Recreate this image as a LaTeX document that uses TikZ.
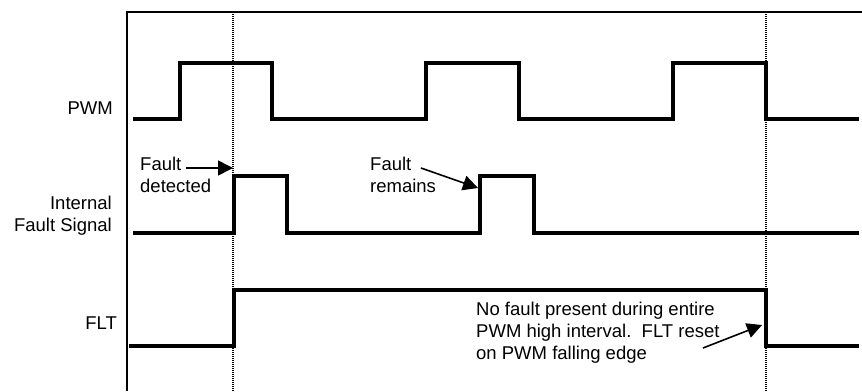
\documentclass[tikz,border=0pt]{standalone}
\usepackage{fontspec}
\setmainfont{Liberation Sans}
\usetikzlibrary{arrows.meta}

\begin{document}
\begin{tikzpicture}[x=1pt,y=-1pt,
  sig/.style={line width=3.2pt},
  frame/.style={line width=2pt},
  marker/.style={line width=1.3pt,dash pattern=on 1.2pt off 0.8pt},
  lbl/.style={inner sep=0pt,font=\fontsize{18.5}{22}\selectfont},
  note/.style={-{Triangle[length=15pt,width=15pt]},line width=1.6pt}]
\useasboundingbox (0,0) rectangle (862,391);
% frame and time markers
\draw [frame] (862,12) -- (127,12) -- (127,391);
\draw [marker] (233,12) -- (233,391);
\draw [marker] (766,12) -- (766,391);
% signal names
\node (PWM) [lbl,anchor=east] at (113,108) {PWM};
\node (IFS) [lbl,anchor=east,align=right] at (112,216) {Internal\\Fault Signal};
\node (FLT) [lbl,anchor=east] at (117,323) {FLT};
% waveforms
\draw [sig] (133,119) -- (180,119) -- (180,63) -- (272,63) -- (272,119) -- (426,119) -- (426,63) -- (519,63) -- (519,119) -- (673,119) -- (673,63) -- (766,63) -- (766,119) -- (859,119);
\draw [sig] (133,233) -- (234,233) -- (234,176) -- (287,176) -- (287,233) -- (480,233) -- (480,176) -- (534,176) -- (534,233) -- (859,233);
\draw [sig] (129,346) -- (234,346) -- (234,290) -- (766,290) -- (766,346) -- (859,346);
% notes
\node (FD) [lbl,anchor=north west,align=left] at (140,156.5) {Fault\\detected};
\node (FR) [lbl,anchor=north west,align=left] at (370,156.5) {Fault\\remains};
\node (NF) [lbl,anchor=north west,align=left] at (476,301.5) {No fault present during entire\\PWM high interval.\ \ FLT reset\\on PWM falling edge};
\coordinate (FDtail) at (186,168);
\coordinate (FDtip) at (233,168);
\coordinate (FRtail) at (421,168);
\coordinate (FRtip) at (478,188);
\coordinate (NFtail) at (703,348);
\coordinate (NFtip) at (762,325);
\draw [note] (FDtail) -- (FDtip);
\draw [note] (FRtail) -- (FRtip);
\draw [note] (NFtail) -- (NFtip);
\end{tikzpicture}
\end{document}
